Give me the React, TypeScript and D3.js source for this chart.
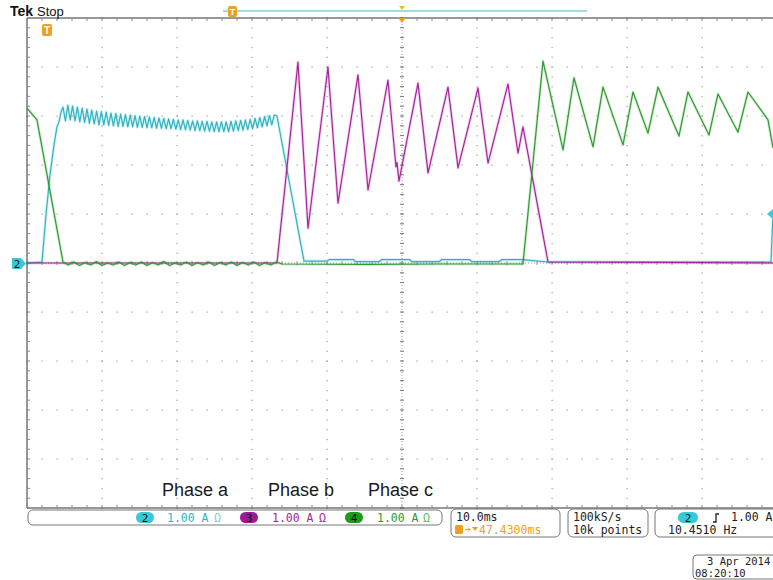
import React from 'react';
import * as d3 from 'd3';

// time in ms from the left graticule edge, amplitude in A (1 A / div)
const cyanRise: [number, number][] = [
  [0, 0], [2.0, 0.02], [2.53, 0.98], [3.07, 1.8], [3.6, 2.41], [4.0, 2.78], [4.27, 2.88], [4.53, 3.08],
];
// ripple on phase a, alternating high / low, one value every 0.32 ms from 4.8 ms
const cyanRipple = [
  3.18, 2.9, 3.22, 2.92, 3.2, 2.9, 3.18, 2.88, 3.16, 2.87, 3.14, 2.85, 3.12, 2.84, 3.1, 2.82, 3.09, 2.82, 3.08, 2.81,
  3.06, 2.8, 3.05, 2.79, 3.04, 2.79, 3.03, 2.78, 3.02, 2.78, 3.01, 2.77, 3.0, 2.77, 2.99, 2.76, 2.98, 2.76, 2.97, 2.75,
  2.96, 2.75, 2.95, 2.74, 2.94, 2.74, 2.93, 2.73, 2.92, 2.72, 2.92, 2.72, 2.91, 2.71, 2.9, 2.7, 2.9, 2.7, 2.89, 2.69,
  2.89, 2.69, 2.88, 2.68, 2.88, 2.68, 2.88, 2.68, 2.88, 2.68, 2.89, 2.69, 2.9, 2.7, 2.91, 2.71, 2.92, 2.72, 2.93, 2.74,
  2.95, 2.76, 2.97, 2.78, 2.99, 2.8, 3.01, 2.82, 3.02,
];
const cyanFall: [number, number][] = [
  [33.33, 3.0], [36.93, 0.04], [40.0, 0.04], [40.3, 0.07], [43.5, 0.07], [43.8, 0.03], [47.0, 0.03], [47.3, 0.07],
  [51.0, 0.07], [51.3, 0.03], [55.0, 0.03], [55.3, 0.07], [59.0, 0.07], [59.3, 0.03], [63.0, 0.03], [63.3, 0.07],
  [66.0, 0.07], [69.5, 0.02], [99.2, 0.02], [99.47, 1.0],
];
const magentaPts: [number, number][] = [
  [0, 0], [33.33, 0], [36.13, 4.1], [37.47, 0.71], [40.13, 4.0], [41.47, 1.22], [44.13, 3.84], [45.47, 1.49],
  [48.13, 3.73], [49.2, 1.96], [49.33, 2.05], [49.6, 1.67], [52.13, 3.67], [53.47, 1.84], [56.13, 3.59], [57.47, 1.94],
  [60.13, 3.57], [61.47, 2.04], [64.13, 3.65], [65.47, 2.24], [66.13, 2.78], [69.47, 0.02], [100, 0],
];
const greenStart: [number, number][] = [[0, 3.16], [1.33, 2.92], [4.8, 0.02]];
// small switching noise on the green zero line, one value every 0.75 ms from 5.5 ms
const greenNoise = [
  -0.04, 0.02, -0.05, 0.01, -0.04, 0.03, -0.05, 0.0, -0.04, 0.02, -0.05, 0.01, -0.04, 0.02, -0.05, 0.01,
  -0.04, 0.03, -0.05, 0.0, -0.04, 0.02, -0.05, 0.01, -0.04, 0.02, -0.05, 0.01, -0.04, 0.02, -0.05, 0.01,
  -0.04, 0.02, -0.05, 0.01, -0.04, 0.02,
];
const greenEnd: [number, number][] = [
  [34.0, -0.02], [45.0, -0.03], [55.0, -0.02], [66.13, -0.02], [68.8, 4.12], [71.47, 2.31], [72.93, 3.78],
  [75.47, 2.37], [76.8, 3.59], [79.47, 2.41], [80.8, 3.49], [82.8, 2.65], [84.13, 3.59], [86.93, 2.59],
  [88.13, 3.49], [90.93, 2.61], [92.13, 3.45], [94.8, 2.67], [96.13, 3.49], [98.8, 2.92], [99.47, 2.35],
];

const phaseLabels = ['Phase a', 'Phase b', 'Phase c'];
const phaseX = [162, 268, 368];

const W = 773;
const H = 580;
const CYAN = '#2fb4c0';
const MAGENTA = '#a8239f';
const GREEN = '#2f9a2f';
const ORANGE = '#eea022';

export default function App() {
  const x = d3.scaleLinear().domain([0, 100]).range([27, 777]);
  const y = d3.scaleLinear().domain([-5, 5]).range([508, 18]);
  const line = d3
    .line<[number, number]>()
    .x(d => x(d[0]))
    .y(d => y(d[1]));

  const cyanPts: [number, number][] = [
    ...cyanRise,
    ...cyanRipple.map((v, i) => [4.8 + i * 0.32, v] as [number, number]),
    ...cyanFall,
  ];
  const greenPts: [number, number][] = [
    ...greenStart,
    ...greenNoise.map((v, i) => [5.5 + i * 0.75, v] as [number, number]),
    ...greenEnd,
  ];

  const majorT = d3.range(10, 100, 10).filter(t => t !== 50);
  const majorA = d3.range(-4, 5, 1).filter(a => a !== 0);
  const fineT = d3.range(0, 100.01, 2);
  const fineA = d3.range(-5, 5.01, 0.2);

  const traces = [
    { pts: cyanPts, c: CYAN },
    { pts: magentaPts, c: MAGENTA },
    { pts: greenPts, c: GREEN },
  ];

  const mono = '"DejaVu Sans Mono", monospace';

  const pill = (px: number, w: number, fill: string, label: string) => (
    <g>
      <rect x={px} y={512} width={w} height={11} rx={5.5} fill={fill} />
      <text x={px + w / 2} y={521.5} textAnchor="middle" fontSize={11} fontFamily={mono} fill="#111">
        {label}
      </text>
    </g>
  );

  return (
    <svg
      width={W}
      height={H}
      viewBox={`0 0 ${W} ${H}`}
      style={{ position: 'absolute', left: 0, top: 0, background: '#fff' }}
    >
      <rect width={W} height={H} fill="#fff" />

      {/* graticule dots */}
      <g fill="#a8a8a8">
        {majorT.map(t =>
          fineA.map(a => <rect key={`v${t}_${a}`} x={x(t) - 0.5} y={y(a) - 0.5} width={1.3} height={1.3} />)
        )}
        {majorA.map(a =>
          fineT.map(t => <rect key={`h${a}_${t}`} x={x(t) - 0.5} y={y(a) - 0.5} width={1.3} height={1.3} />)
        )}
      </g>
      {/* centre lines */}
      <g stroke="#9a9a9a" strokeWidth={1}>
        <line x1={x(50)} x2={x(50)} y1={y(5)} y2={y(-5)} strokeDasharray="1,2" />
        <line x1={x(0)} x2={x(100)} y1={y(0)} y2={y(0)} strokeDasharray="1,2" />
        {fineA.map(a => (
          <line key={`ca${a}`} x1={x(50) - 2} x2={x(50) + 2} y1={y(a)} y2={y(a)} stroke="#777" />
        ))}
        {fineT.map(t => (
          <line key={`ct${t}`} x1={x(t)} x2={x(t)} y1={y(0) - 2} y2={y(0) + 2} stroke="#999" />
        ))}
      </g>
      {/* border with ticks */}
      <g stroke="#333" strokeWidth={1}>
        <line x1={x(0)} x2={x(100)} y1={y(5)} y2={y(5)} />
        <line x1={x(0)} x2={x(100)} y1={y(-5)} y2={y(-5)} />
        <line x1={x(0)} x2={x(0)} y1={y(5)} y2={y(-5)} />
        {fineT.map(t => (
          <g key={`bt${t}`} stroke="#888">
            <line x1={x(t)} x2={x(t)} y1={y(5)} y2={y(5) + 3} />
            <line x1={x(t)} x2={x(t)} y1={y(-5)} y2={y(-5) - 3} />
          </g>
        ))}
        {fineA.map(a => (
          <line key={`bl${a}`} x1={x(0)} x2={x(0) + 3} y1={y(a)} y2={y(a)} stroke="#888" />
        ))}
      </g>

      {/* traces */}
      <g fill="none" strokeLinejoin="round">
        {traces.map((tr, i) => (
          <g key={i}>
            <path d={line(tr.pts) ?? ''} stroke={tr.c} strokeWidth={3} opacity={0.18} />
            <path d={line(tr.pts) ?? ''} stroke={tr.c} strokeWidth={1.2} />
          </g>
        ))}
      </g>

      {/* markers */}
      <g>
        <path d="M12,258 h9 l5,5.5 l-5,5.5 h-9 z" fill="#38c8d8" />
        <text x={17} y={267.5} textAnchor="middle" fontSize={11} fontFamily={mono} fill="#113">2</text>
        <path d={`M773,${y(1) - 5} L767,${y(1)} L773,${y(1) + 5} z`} fill="#38c8d8" />
        <rect x={42} y={24} width={10} height={12} rx={2} fill={ORANGE} />
        <text x={47} y={34} textAnchor="middle" fontSize={10} fontWeight="bold" fontFamily="Liberation Sans" fill="#fff">T</text>
        <path d={`M${x(50) - 4},18 L${x(50) + 4},18 L${x(50)},23 z`} fill={ORANGE} />
      </g>

      {/* top bar */}
      <text x={10} y={16} fontSize={14} fontWeight="bold" fontFamily="Liberation Sans, Arial" fill="#111">Tek</text>
      <text x={37} y={16} fontSize={13} fontFamily="Liberation Sans, Arial" fill="#111">Stop</text>
      <line x1={223} x2={587} y1={11} y2={11} stroke="#7fd0d8" strokeWidth={1.5} />
      <rect x={228} y={6} width={9} height={11} rx={2} fill={ORANGE} />
      <text x={232.5} y={15} textAnchor="middle" fontSize={9} fontWeight="bold" fontFamily="Liberation Sans" fill="#fff">T</text>
      <path d={`M${x(50) - 3},6 L${x(50) + 3},6 L${x(50)},10 z`} fill="#e8c020" />

      {/* phase labels */}
      {phaseLabels.map((p, i) => (
        <text key={p} x={phaseX[i]} y={496} fontSize={18} fontFamily="Liberation Sans, Arial" fill="#1a1a1a">
          {p}
        </text>
      ))}

      {/* readouts */}
      <g fill="none" stroke="#777" strokeWidth={1}>
        <rect x={28} y={510} width={414} height={15} rx={5} />
        <rect x={451} y={509} width={109} height={28} rx={5} />
        <rect x={568} y={509} width={80} height={28} rx={5} />
        <rect x={655} y={509} width={130} height={28} rx={5} />
        <rect x={693} y={555} width={92} height={24} rx={4} />
      </g>
      {pill(136, 18, '#38c8d8', '2')}
      <text x={167} y={522} fontSize={11.5} fontFamily={mono} fill={CYAN}>1.00 A</text>
      <text x={214} y={522} fontSize={11.5} fontFamily={mono} fill="#7fd0d8">Ω</text>
      {pill(240, 18, '#9a1a9a', '3')}
      <text x={272} y={522} fontSize={11.5} fontFamily={mono} fill={MAGENTA}>1.00 A</text>
      <text x={319} y={522} fontSize={11.5} fontFamily={mono} fill={MAGENTA}>Ω</text>
      {pill(345, 18, '#1c9a1c', '4')}
      <text x={377} y={522} fontSize={11.5} fontFamily={mono} fill={GREEN}>1.00 A</text>
      <text x={423} y={522} fontSize={11.5} fontFamily={mono} fill="#5cbf5c">Ω</text>

      <text x={456} y={521} fontSize={11.5} fontFamily={mono} fill="#222">10.0ms</text>
      <rect x={455} y={525} width={8} height={9} rx={1.5} fill={ORANGE} />
      <path d="M465,529.5 h5 M468,527.5 l2,2 l-2,2" stroke={ORANGE} strokeWidth={1} fill="none" />
      <path d="M472,527 h6 l-3,4 z" fill={ORANGE} />
      <text x={479} y={534} fontSize={11.5} fontFamily={mono} fill={ORANGE}>47.4300ms</text>

      <text x={573} y={521} fontSize={11.5} fontFamily={mono} fill="#222">100kS/s</text>
      <text x={573} y={534} fontSize={11.5} fontFamily={mono} fill="#222">10k points</text>

      {pill(678, 20, '#38c8d8', '2')}
      <path d="M713,522 h3 v-8 h3" stroke="#222" strokeWidth={1.3} fill="none" />
      <text x={731} y={521} fontSize={11.5} fontFamily={mono} fill="#222">1.00 A</text>
      <text x={668} y={534} fontSize={11.5} fontFamily={mono} fill="#222">10.4510 Hz</text>

      <text x={707} y={565} fontSize={10.5} fontFamily={mono} fill="#222">3 Apr 2014</text>
      <text x={695} y={577} fontSize={10.5} fontFamily={mono} fill="#222">08:20:10</text>
    </svg>
  );
}
